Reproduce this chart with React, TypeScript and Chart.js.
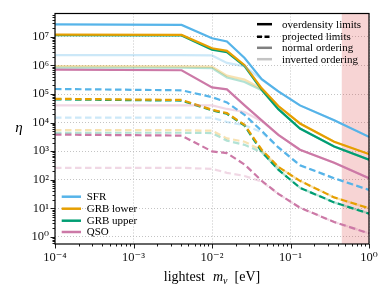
import React, { useEffect, useRef } from "react";
import { Chart, registerables } from "chart.js";

Chart.register(...registerables);

// ---------- data ----------
const MASS = [1e-4, 4.1e-3, 1e-2, 1.55e-2, 2.6e-2, 4.3e-2, 7e-2, 0.132, 0.36, 1];

// normal ordering, overdensity limits (solid)
const SFR_OD = [2.75e7, 2.63e7, 9.0e6, 6.9e6, 1.82e6, 3.3e5, 1.23e5, 4.0e4, 1.2e4, 3.16e3];
const GRBL_OD = [1.2e7, 1.17e7, 4.0e6, 3.24e6, 1.02e6, 1.58e5, 3.8e4, 9.3e3, 2.14e3, 7.9e2];
const GRBU_OD = [1.15e7, 1.12e7, 3.6e6, 2.95e6, 9.5e5, 1.41e5, 2.95e4, 6.2e3, 1.45e3, 5.0e2];
const QSO_OD = [7.1e5, 6.8e5, 1.7e5, 1.45e5, 4.0e4, 1.2e4, 3.7e3, 1.12e3, 3.9e2, 1.12e2];
// normal ordering, projected limits (dashed)
const SFR_PR = [1.5e5, 1.35e5, 7.8e4, 5.1e4, 1.86e4, 5.1e3, 1.35e3, 3.2e2, 1.12e2, 44];
const GRBL_PR = [6.8e4, 6.2e4, 2.8e4, 2.14e4, 8.3e3, 1.12e3, 2.8e2, 91, 24, 10];
const GRBU_PR = [6.5e4, 5.9e4, 2.7e4, 2.04e4, 7.8e3, 9.5e2, 2.24e2, 52, 16, 6.5];
const QSO_PR = [3.8e3, 3.5e3, 9.8e2, 8.5e2, 3.4e2, 91, 32, 10.5, 3.3, 1.32];
// inverted ordering, overdensity limits
const SFR_OD_INV = [2.3e6, 2.3e6, 2.24e6, 1.23e6, 9.3e5, 3.2e5, 1.23e5, 4.0e4, 1.2e4, 3.16e3];
const GRBL_OD_INV = [9.5e5, 9.3e5, 9.1e5, 4.4e5, 3.2e5, 1.51e5, 3.8e4, 9.3e3, 2.14e3, 7.9e2];
const GRBU_OD_INV = [8.5e5, 8.3e5, 8.1e5, 3.8e5, 2.63e5, 1.35e5, 2.95e4, 6.2e3, 1.45e3, 5.0e2];
const QSO_OD_INV = [4.0e4, 4.0e4, 4.0e4, 3.0e4, 2.34e4, 1.12e4, 3.7e3, 1.12e3, 3.9e2, 1.12e2];
// inverted ordering, projected limits
const SFR_PR_INV = [1.48e4, 1.48e4, 1.48e4, 1.05e4, 8.1e3, 4.6e3, 1.35e3, 3.2e2, 1.12e2, 44];
const GRBL_PR_INV = [5.4e3, 5.4e3, 5.2e3, 2.8e3, 2.14e3, 1.07e3, 2.8e2, 91, 24, 10];
const GRBU_PR_INV = [4.4e3, 4.4e3, 4.3e3, 2.34e3, 1.66e3, 9.1e2, 2.24e2, 52, 16, 6.5];
const QSO_PR_INV = [2.6e2, 2.6e2, 2.4e2, 1.74e2, 1.35e2, 85, 32, 10.5, 3.3, 1.32];

const SERIES = ["SFR", "GRB lower", "GRB upper", "QSO"];
const X_TICKS = [1e-4, 1e-3, 1e-2, 1e-1, 1];
const Y_TICKS = [1, 10, 100, 1e3, 1e4, 1e5, 1e6, 1e7];
const X_RANGE = [1e-4, 1];
const Y_RANGE = [0.56, 6.6e7];
const SHADE_RANGE = [0.45, 1];
const STYLE_LEGEND = ["overdensity limits", "projected limits", "normal ordering", "inverted ordering"];

// ---------- styles ----------
const COLORS = ["#56B4E9", "#E69F00", "#009E73", "#CC79A7"];
const FADED = ["rgba(86,180,233,0.3)", "rgba(230,159,0,0.3)", "rgba(0,158,115,0.3)", "rgba(204,121,167,0.3)"];
const SERIF = '"Liberation Serif", "DejaVu Serif", serif';
const DASH = [6.5, 3.5];

const SUP: Record<string, string> = { "-": "\u207B", "0": "\u2070", "1": "\u00B9", "2": "\u00B2", "3": "\u00B3", "4": "\u2074", "5": "\u2075", "6": "\u2076", "7": "\u2077", "8": "\u2078", "9": "\u2079" };
const powLabel = (v: number) => {
  const e = Math.round(Math.log10(v));
  return "10" + String(e).split("").map((c) => SUP[c]).join("");
};

const deco = {
  id: "deco",
  beforeDatasetsDraw(chart: any) {
    const { ctx, chartArea: ca, scales } = chart;
    const x0 = scales.x.getPixelForValue(SHADE_RANGE[0]);
    const x1 = scales.x.getPixelForValue(SHADE_RANGE[1]);
    ctx.save();
    ctx.fillStyle = "rgba(214,39,40,0.2)";
    ctx.fillRect(x0, ca.top, x1 - x0, ca.bottom - ca.top);
    ctx.restore();
  },
  afterDraw(chart: any) {
    const { ctx, chartArea: ca, scales } = chart;
    const xs = scales.x, ys = scales.y;
    ctx.save();
    // frame
    ctx.strokeStyle = "#000";
    ctx.lineWidth = 1.2;
    ctx.strokeRect(ca.left, ca.top, ca.right - ca.left, ca.bottom - ca.top);
    // ticks
    ctx.lineWidth = 0.9;
    ctx.beginPath();
    for (let d = -4; d <= 0; d++) {
      for (let k = 1; k <= 9; k++) {
        const v = k * Math.pow(10, d);
        if (v < X_RANGE[0] * 0.999 || v > X_RANGE[1] * 1.001) continue;
        const p = Math.round(xs.getPixelForValue(v)) + 0.5;
        const len = k === 1 ? 4.5 : 2.5;
        ctx.moveTo(p, ca.bottom);
        ctx.lineTo(p, ca.bottom + len);
      }
    }
    for (let d = -1; d <= 7; d++) {
      for (let k = 1; k <= 9; k++) {
        const v = k * Math.pow(10, d);
        if (v < Y_RANGE[0] || v > Y_RANGE[1]) continue;
        const p = Math.round(ys.getPixelForValue(v)) + 0.5;
        const len = k === 1 ? 4.5 : 2.5;
        ctx.moveTo(ca.left, p);
        ctx.lineTo(ca.left - len, p);
      }
    }
    ctx.stroke();

    // y title
    ctx.fillStyle = "#000";
    ctx.font = "italic 15px " + SERIF;
    ctx.textAlign = "center";
    ctx.textBaseline = "middle";
    ctx.fillText("\u03B7", 19, (ca.top + ca.bottom) / 2 - 0.5);

    // x title: lightest  m_ν [eV]
    const parts = [
      { t: "lightest", f: "14px " + SERIF, dy: 0, gap: 8 },
      { t: "m", f: "italic 14px " + SERIF, dy: 0, gap: 0 },
      { t: "\u03BD", f: "italic 10px " + SERIF, dy: 3, gap: 7 },
      { t: "[eV]", f: "14px " + SERIF, dy: 0, gap: 0 },
    ];
    let total = 0;
    for (const p of parts) { ctx.font = p.f; total += ctx.measureText(p.t).width + p.gap; }
    let cx = (ca.left + ca.right) / 2 - total / 2;
    ctx.textAlign = "left";
    ctx.textBaseline = "alphabetic";
    for (const p of parts) {
      ctx.font = p.f;
      ctx.fillText(p.t, cx, 281 + p.dy);
      cx += ctx.measureText(p.t).width + p.gap;
    }

    // style legend (top right)
    const lx0 = ca.right - 112, lx1 = ca.right - 97, tx = ca.right - 87;
    const rows = [10.7, 23.3, 34.3, 45.7];
    const lstyles = [
      { c: "#000", d: [] as number[] },
      { c: "#000", d: [5, 2.5] },
      { c: "#808080", d: [] as number[] },
      { c: "#c4c4c4", d: [] as number[] },
    ];
    ctx.font = "11px " + SERIF;
    ctx.textBaseline = "middle";
    rows.forEach((r, i) => {
      const y = ca.top + r;
      ctx.strokeStyle = lstyles[i].c;
      ctx.setLineDash(lstyles[i].d);
      ctx.lineWidth = 2.5;
      ctx.beginPath(); ctx.moveTo(lx0, y); ctx.lineTo(lx1, y); ctx.stroke();
      ctx.setLineDash([]);
      ctx.fillStyle = "#000";
      ctx.fillText(STYLE_LEGEND[i], tx, y + 0.5);
    });

    // series legend (bottom left)
    const bx0 = ca.left + 6.7, bx1 = ca.left + 26, btx = ca.left + 31.7;
    const brows = [47.3, 35.3, 23.3, 12];
    brows.forEach((r, i) => {
      const y = ca.bottom - r;
      ctx.strokeStyle = COLORS[i];
      ctx.lineWidth = 2.5;
      ctx.beginPath(); ctx.moveTo(bx0, y); ctx.lineTo(bx1, y); ctx.stroke();
      ctx.fillStyle = "#000";
      ctx.fillText(SERIES[i], btx, y + 0.5);
    });
    ctx.restore();
  },
};

function toPts(arr: number[]) {
  return MASS.map((m, i) => ({ x: m, y: arr[i] }));
}

export default function App() {
  const ref = useRef<HTMLCanvasElement>(null);
  useEffect(() => {
    document.body.style.margin = "0";
    const od = [SFR_OD, GRBL_OD, GRBU_OD, QSO_OD];
    const pr = [SFR_PR, GRBL_PR, GRBU_PR, QSO_PR];
    const odInv = [SFR_OD_INV, GRBL_OD_INV, GRBU_OD_INV, QSO_OD_INV];
    const prInv = [SFR_PR_INV, GRBL_PR_INV, GRBU_PR_INV, QSO_PR_INV];
    const datasets: any[] = [];
    SERIES.forEach((s, i) => {
      datasets.push({ label: s + " inverted projected", data: toPts(prInv[i]), borderColor: FADED[i], borderDash: DASH });
      datasets.push({ label: s + " inverted overdensity", data: toPts(odInv[i]), borderColor: FADED[i] });
    });
    SERIES.forEach((s, i) => {
      datasets.push({ label: s + " projected", data: toPts(pr[i]), borderColor: COLORS[i], borderDash: DASH });
    });
    SERIES.forEach((s, i) => {
      datasets.push({ label: s + " overdensity", data: toPts(od[i]), borderColor: COLORS[i] });
    });
    const tickFont = { family: SERIF, size: 12.5 };
    const chart = new Chart(ref.current!, {
      type: "line",
      data: { datasets },
      plugins: [deco],
      options: {
        animation: false,
        responsive: false,
        maintainAspectRatio: false,
        layout: { padding: { top: 10, right: 19, left: 0, bottom: 0 } },
        plugins: { legend: { display: false }, tooltip: { enabled: false } },
        elements: { point: { radius: 0 }, line: { tension: 0, borderWidth: 2.2, fill: false } },
        scales: {
          x: {
            type: "logarithmic",
            min: X_RANGE[0],
            max: X_RANGE[1],
            afterFit: (s: any) => { s.height = 50; },
            afterBuildTicks: (s: any) => { s.ticks = X_TICKS.map((v) => ({ value: v })); },
            ticks: { callback: (v: any) => powLabel(Number(v)), font: tickFont, color: "#111", padding: 6, maxRotation: 0, autoSkip: false },
            grid: { color: "#b5b5b5", lineWidth: 0.8, drawTicks: false },
            border: { display: false, dash: [1, 2] },
          },
          y: {
            type: "logarithmic",
            min: Y_RANGE[0],
            max: Y_RANGE[1],
            afterFit: (s: any) => { s.width = 55; },
            afterBuildTicks: (s: any) => { s.ticks = Y_TICKS.map((v) => ({ value: v })); },
            ticks: { callback: (v: any) => powLabel(Number(v)), font: tickFont, color: "#111", padding: 6, autoSkip: false },
            grid: { color: "#b5b5b5", lineWidth: 0.8, drawTicks: false },
            border: { display: false, dash: [1, 2] },
          },
        },
      } as any,
    });
    return () => chart.destroy();
  }, []);
  return (
    <div style={{ width: 388, height: 294 }}>
      <canvas ref={ref} width={388} height={294} />
    </div>
  );
}
